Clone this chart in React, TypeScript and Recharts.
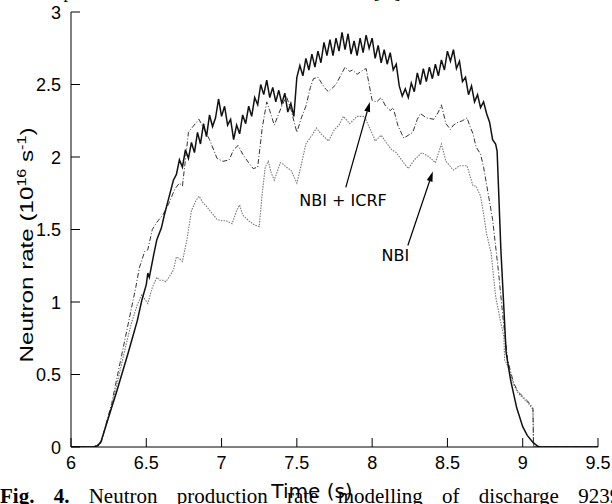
import React from 'react';
import { LineChart, Line, XAxis, YAxis, ReferenceLine, ReferenceDot } from 'recharts';

const xTicks = [6, 6.5, 7, 7.5, 8, 8.5, 9, 9.5];
const yTicks = [0, 0.5, 1, 1.5, 2, 2.5, 3];

// measured neutron rate (solid, noisy)
const measuredTime = [
  6.0, 6.15, 6.18, 6.2, 6.23, 6.26, 6.3, 6.34, 6.38, 6.41, 6.44, 6.47, 6.5, 6.51, 6.52, 6.55, 6.57, 6.6, 6.62, 6.65, 6.68,
  6.7, 6.72, 6.74, 6.76, 6.78, 6.8, 6.82, 6.84, 6.86, 6.88, 6.9, 6.92, 6.94, 6.96, 6.98,
  7.0, 7.02, 7.04, 7.06, 7.08, 7.1, 7.12, 7.14, 7.16, 7.18, 7.2, 7.22, 7.24, 7.26, 7.28,
  7.3, 7.32, 7.34, 7.36, 7.38, 7.4, 7.42, 7.44, 7.46, 7.48, 7.5, 7.52, 7.54, 7.56, 7.58,
  7.6, 7.62, 7.64, 7.66, 7.68, 7.7, 7.72, 7.74, 7.76, 7.78, 7.8, 7.82, 7.84, 7.86, 7.88,
  7.9, 7.92, 7.94, 7.96, 7.98, 8.0, 8.02, 8.04, 8.06, 8.08, 8.1, 8.12, 8.14, 8.16, 8.18,
  8.2, 8.22, 8.24, 8.26, 8.28, 8.3, 8.32, 8.34, 8.36, 8.38, 8.4, 8.42, 8.44, 8.46, 8.48,
  8.5, 8.52, 8.54, 8.56, 8.58, 8.6, 8.62, 8.64, 8.66, 8.68, 8.7, 8.72, 8.74, 8.76, 8.78,
  8.8, 8.82, 8.83, 8.855, 8.89, 8.92, 8.96, 9.0, 9.03, 9.07, 9.1, 9.12, 9.5,
];
const measuredRate = [
  0, 0, 0.01, 0.04, 0.14, 0.24, 0.37, 0.51, 0.65, 0.76, 0.87, 1.01, 1.12, 1.2, 1.17, 1.33, 1.43, 1.51, 1.6, 1.72, 1.84,
  1.88, 1.98, 1.93, 2.05, 1.99, 2.1, 2.03, 2.17, 2.09, 2.23, 2.14, 2.29, 2.21, 2.27, 2.4,
  2.28, 2.35, 2.22, 2.26, 2.12, 2.22, 2.16, 2.29, 2.23, 2.35, 2.28, 2.41, 2.36, 2.5, 2.43,
  2.53, 2.41, 2.48, 2.38, 2.46, 2.37, 2.44, 2.31, 2.37, 2.28, 2.55, 2.63, 2.56, 2.68, 2.6,
  2.71, 2.62, 2.73, 2.65, 2.79, 2.7, 2.81, 2.7, 2.82, 2.73, 2.86, 2.74, 2.85, 2.71, 2.8,
  2.7, 2.82, 2.72, 2.84, 2.75, 2.82, 2.68, 2.77, 2.65, 2.74, 2.64, 2.72, 2.6, 2.64, 2.49,
  2.42, 2.47, 2.41, 2.51, 2.45, 2.58, 2.5, 2.61, 2.52, 2.62, 2.54, 2.64, 2.56, 2.67, 2.6,
  2.73, 2.66, 2.74, 2.61, 2.66, 2.52, 2.55, 2.43, 2.49, 2.38, 2.43, 2.34, 2.38, 2.3, 2.24,
  2.12, 2.09, 2.04, 1.36, 0.65, 0.46, 0.27, 0.14, 0.08, 0.03, 0.005, 0, 0,
];

// NBI + ICRF model (dash-dot)
const icrfTime = [
  6.0, 6.15, 6.2, 6.23, 6.27, 6.32, 6.36, 6.4, 6.43, 6.455, 6.49, 6.51, 6.54, 6.57, 6.61, 6.65, 6.69, 6.72, 6.74, 6.76,
  6.78, 6.81, 6.85, 6.88, 6.92, 6.97, 7.01, 7.05, 7.08, 7.11, 7.14, 7.18, 7.21, 7.24, 7.27, 7.3, 7.32, 7.35, 7.38, 7.4,
  7.43, 7.46, 7.5, 7.53, 7.56, 7.59, 7.61, 7.64, 7.67, 7.69, 7.71, 7.74, 7.76, 7.79, 7.82, 7.85, 7.87, 7.9, 7.94, 7.96,
  8.0, 8.03, 8.06, 8.09, 8.12, 8.14, 8.17, 8.21, 8.24, 8.27, 8.3, 8.32, 8.36, 8.41, 8.44, 8.46, 8.49, 8.52, 8.54, 8.57,
  8.6, 8.63, 8.65, 8.67, 8.69, 8.72, 8.74, 8.77, 8.8, 8.84, 8.87, 8.9, 8.94, 8.97, 9.0, 9.03, 9.06, 9.068, 9.072, 9.5,
];
const icrfRate = [
  0, 0, 0.03, 0.15, 0.3, 0.55, 0.75, 0.95, 1.1, 1.24, 1.35, 1.36, 1.5, 1.55, 1.6, 1.68, 1.78, 1.82, 1.8, 1.98,
  2.17, 2.21, 2.26, 2.2, 2.12, 1.99, 1.97, 1.98, 2.05, 2.08, 2.02, 1.96, 1.92, 1.93, 2.2, 2.38, 2.32, 2.22, 2.3, 2.35,
  2.42, 2.33, 2.17, 2.27, 2.35, 2.48, 2.54, 2.55, 2.5, 2.47, 2.45, 2.48, 2.5, 2.56, 2.62, 2.59, 2.6, 2.57, 2.6, 2.61,
  2.39, 2.38, 2.41, 2.35, 2.32, 2.34, 2.22, 2.13, 2.15, 2.17, 2.26, 2.3, 2.27, 2.26, 2.31, 2.36, 2.23, 2.19, 2.22, 2.24,
  2.25, 2.27, 2.21, 2.16, 2.07, 2.02, 1.93, 1.75, 1.57, 1.2, 0.88, 0.6, 0.44, 0.38, 0.35, 0.32, 0.28, 0.27, 0, 0,
];

// NBI only model (dotted)
const nbiTime = [
  6.0, 6.15, 6.2, 6.23, 6.27, 6.32, 6.36, 6.4, 6.44, 6.47, 6.49, 6.51, 6.54, 6.57, 6.59, 6.61, 6.63, 6.65, 6.68, 6.7,
  6.72, 6.74, 6.77, 6.8, 6.83, 6.85, 6.88, 6.9, 6.93, 6.97, 7.0, 7.03, 7.07, 7.1, 7.12, 7.14, 7.18, 7.22, 7.25, 7.27,
  7.29, 7.31, 7.33, 7.35, 7.37, 7.39, 7.41, 7.43, 7.46, 7.5, 7.53, 7.56, 7.6, 7.63, 7.66, 7.71, 7.75, 7.78, 7.81, 7.85,
  7.9, 7.95, 7.97, 8.01, 8.02, 8.06, 8.1, 8.13, 8.16, 8.21, 8.24, 8.28, 8.33, 8.38, 8.42, 8.46, 8.49, 8.54, 8.58, 8.63,
  8.67, 8.69, 8.72, 8.74, 8.76, 8.79, 8.82, 8.85, 8.875, 8.88, 8.9, 8.94, 8.97, 9.0, 9.03, 9.06, 9.068, 9.072, 9.5,
];
const nbiRate = [
  0, 0, 0.03, 0.14, 0.28, 0.5, 0.68, 0.85, 0.98, 1.05, 1.02, 0.99, 1.1, 1.17, 1.15, 1.15, 1.14, 1.17, 1.22, 1.31,
  1.3, 1.28, 1.43, 1.63, 1.7, 1.73, 1.68, 1.66, 1.62, 1.57, 1.56, 1.56, 1.54, 1.63, 1.67, 1.6, 1.56, 1.53, 1.52, 1.75,
  1.93, 1.97, 1.89, 1.84, 1.9, 1.96, 1.95, 1.93, 1.91, 1.82, 1.95, 2.09, 2.15, 2.2, 2.16, 2.11, 2.19, 2.22, 2.28, 2.23,
  2.28, 2.28, 2.23, 2.14, 2.11, 2.15, 2.09, 2.05, 2.03, 1.96, 1.92, 1.98, 2.03, 2.0, 1.96, 2.09, 1.97, 1.91, 1.94, 1.94,
  1.8, 1.8, 1.73, 1.61, 1.47, 1.34, 1.04, 0.88, 0.76, 0.6, 0.56, 0.43, 0.37, 0.34, 0.31, 0.27, 0.26, 0, 0,
];

const zip = (ts: number[], vs: number[]) => ts.map((t, i) => ({ t, v: vs[i] }));
const measured = zip(measuredTime, measuredRate);
const icrf = zip(icrfTime, icrfRate);
const nbi = zip(nbiTime, nbiRate);

const tickFont = "'Liberation Sans', Arial, sans-serif";
const labelFont = "'DejaVu Sans', Verdana, sans-serif";

const BottomTick = ({ x, y, payload }: any) => (
  <g>
    <line x1={x} x2={x} y1={y} y2={y - 9} stroke="#000" />
    <text x={x} y={y + 22} textAnchor="middle" fontSize={18} fontFamily={tickFont} fill="#000">
      {payload.value}
    </text>
  </g>
);
const TopTick = ({ x, y }: any) => <line x1={x} x2={x} y1={y} y2={y + 9} stroke="#000" />;
const LeftTick = ({ x, y, payload }: any) => (
  <g>
    <line x1={x} x2={x + 9} y1={y} y2={y} stroke="#000" />
    <text x={x - 10} y={y + 6.5} textAnchor="end" fontSize={18} fontFamily={tickFont} fill="#000">
      {payload.value}
    </text>
  </g>
);
const RightTick = ({ x, y }: any) => <line x1={x} x2={x - 9} y1={y} y2={y} stroke="#000" />;

const Arrow = (props: any) => {
  const { x1, y1, x2, y2 } = props;
  const a = Math.atan2(y2 - y1, x2 - x1);
  const len = 10;
  const half = 3;
  const bx = x2 - len * Math.cos(a);
  const by = y2 - len * Math.sin(a);
  const pts = `${x2},${y2} ${bx + half * Math.sin(a)},${by - half * Math.cos(a)} ${bx - half * Math.sin(a)},${by + half * Math.cos(a)}`;
  return (
    <g>
      <line x1={x1} y1={y1} x2={bx} y2={by} stroke="#000" strokeWidth={1.2} />
      <polygon points={pts} fill="#000" />
    </g>
  );
};

const YTitle = () => (
  <text
    x={33}
    y={245}
    transform="rotate(-90, 33, 245)"
    textAnchor="middle"
    fontSize={18}
    fontFamily={tickFont}
    fill="#000"
    textLength={235}
    lengthAdjust="spacingAndGlyphs"
  >
    Neutron rate (10<tspan dy={-7} fontSize={12}>16</tspan>
    <tspan dy={7}> s</tspan>
    <tspan dy={-7} fontSize={12}>-1</tspan>
    <tspan dy={7}>)</tspan>
  </text>
);

export default function App() {
  return (
    <div style={{ position: 'fixed', left: 0, top: 0, width: 612, height: 504, overflow: 'hidden', background: '#fff' }}>
      <svg width={612} height={20} style={{ position: 'absolute', left: 0, top: 0 }}>
        <text x={2} y={-2} fontSize={18} fontFamily="'Liberation Serif', serif" textLength={406} lengthAdjust="spacing">
          the experimental scenario described [1].
        </text>
      </svg>
      <div style={{ position: 'absolute', left: 0, top: 0 }}>
        <LineChart width={612} height={504} margin={{ top: 12, right: 14, left: 0, bottom: 0 }}>
          <XAxis
            dataKey="t"
            type="number"
            domain={[6, 9.5]}
            ticks={xTicks}
            height={57}
            tickSize={0}
            tickMargin={0}
            tick={<BottomTick />}
            axisLine={{ stroke: '#000' }}
            allowDataOverflow
          />
          <XAxis
            xAxisId="top"
            orientation="top"
            dataKey="t"
            type="number"
            domain={[6, 9.5]}
            ticks={xTicks}
            height={0}
            tickSize={0}
            tickMargin={0}
            tick={<TopTick />}
            axisLine={{ stroke: '#000' }}
            allowDataOverflow
          />
          <YAxis
            type="number"
            domain={[0, 3]}
            ticks={yTicks}
            width={71}
            tickSize={0}
            tickMargin={0}
            tick={<LeftTick />}
            axisLine={{ stroke: '#000' }}
            label={{ content: <YTitle /> }}
            allowDataOverflow
          />
          <YAxis
            yAxisId="right"
            orientation="right"
            type="number"
            domain={[0, 3]}
            ticks={yTicks}
            width={0}
            tickSize={0}
            tickMargin={0}
            tick={<RightTick />}
            axisLine={{ stroke: '#000' }}
            allowDataOverflow
          />
          <Line data={nbi} dataKey="v" type="linear" stroke="#777" strokeWidth={1.1} strokeDasharray="1.5 1.2" dot={false} isAnimationActive={false} />
          <Line data={icrf} dataKey="v" type="linear" stroke="#333" strokeWidth={1} strokeDasharray="5 2 1 2" dot={false} isAnimationActive={false} />
          <Line data={measured} dataKey="v" type="linear" stroke="#111" strokeWidth={1.5} dot={false} isAnimationActive={false} />
          <ReferenceLine segment={[{ x: 7.825, y: 1.79 }, { x: 7.985, y: 2.38 }]} shape={<Arrow />} />
          <ReferenceLine segment={[{ x: 8.237, y: 1.39 }, { x: 8.403, y: 1.9 }]} shape={<Arrow />} />
          <ReferenceDot
            x={7.807}
            y={1.7}
            r={0}
            fill="none"
            stroke="none"
            label={{ value: 'NBI + ICRF', position: 'center', fontSize: 16, fill: '#000', fontFamily: labelFont }}
          />
          <ReferenceDot
            x={8.154}
            y={1.32}
            r={0}
            fill="none"
            stroke="none"
            label={{ value: 'NBI', position: 'center', fontSize: 16, fill: '#000', fontFamily: labelFont }}
          />
        </LineChart>
      </div>
      <div
        style={{
          position: 'absolute',
          left: 0,
          top: 485,
          fontFamily: "'Liberation Serif', serif",
          fontSize: 21,
          lineHeight: '22px',
          wordSpacing: 14,
          whiteSpace: 'nowrap',
          color: '#000',
        }}
      >
        <b>Fig. 4.</b> Neutron production rate modelling of discharge 92398
      </div>
      <svg width={612} height={504} style={{ position: 'absolute', left: 0, top: 0, pointerEvents: 'none' }}>
        <text x={312} y={498} textAnchor="middle" fontSize={20} fontFamily={labelFont} fill="#000">
          Time (s)
        </text>
      </svg>
    </div>
  );
}
